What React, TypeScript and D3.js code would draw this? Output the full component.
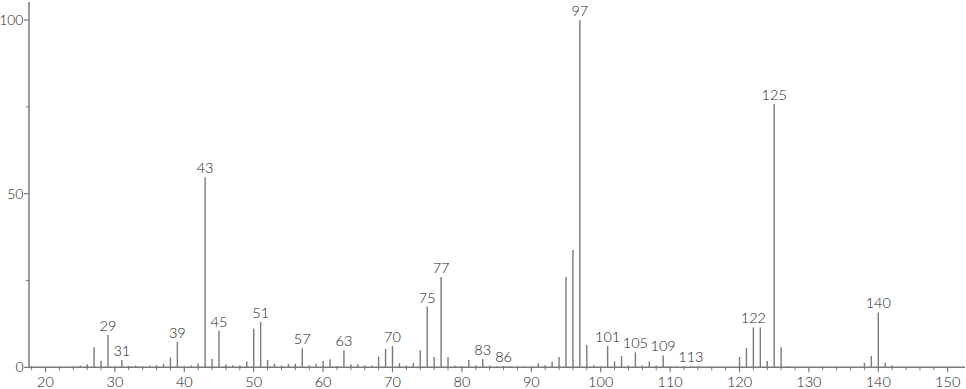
import React from "react";
import * as d3 from "d3";

const mz = [25,26,27,28,29,30,31,32,33,34,35,36,37,38,39,40,41,42,43,44,45,46,47,48,49,50,51,52,53,54,55,56,57,58,59,60,61,62,63,64,65,66,67,68,69,70,71,72,73,74,75,76,77,78,79,80,81,82,83,84,85,86,87,88,89,90,91,92,93,94,95,96,97,98,99,100,101,102,103,104,105,106,107,108,109,110,111,113,120,121,122,123,124,125,126,127,138,139,140,141,142];
const intensity = [0.5,0.9,5.8,1.9,9.3,0.3,2.1,0.4,0.5,0.3,0.5,0.6,1.0,2.8,7.3,0.3,0.5,1.1,54.7,2.4,10.5,0.8,0.6,0.5,1.7,11.1,13.0,2.1,1.0,0.5,1.0,1.0,5.5,0.5,1.0,1.8,2.3,0.4,4.9,0.9,0.9,0.5,0.5,3.1,5.3,6.1,1.2,0.5,1.2,4.9,17.5,3.0,26.0,3.0,0.5,0.4,2.1,0.5,2.4,0.5,0.3,0.4,0.3,0.2,0.3,0.3,1.2,0.6,1.6,3.0,26.0,33.8,100,6.4,0.6,0.3,6.1,1.7,3.2,0.5,4.3,0.5,1.7,0.5,3.4,0.4,0.3,0.3,3.0,5.5,11.5,11.5,1.8,75.8,5.8,0.4,1.3,3.2,15.8,1.3,0.5];
const labeled = [29,31,39,43,45,51,57,63,70,75,77,83,86,97,101,105,109,113,122,125,140];
const xMajor = [20,30,40,50,60,70,80,90,100,110,120,130,140,150];
const yMajor = [0,50,100];
const yMinor = [25,75];

export default function App() {
  const x = d3.scaleLinear().domain([20, 150]).range([45.5, 947.7]);
  const y = d3.scaleLinear().domain([0, 100]).range([367.3, 20]);
  const x0 = 29, x1 = 965, yTop = 2;
  const base = y(0);
  const xMinor = d3.range(18, 152, 2).filter((v) => v % 10 !== 0);
  const font = "Lato, 'Liberation Sans', Arial, sans-serif";
  const col = "#7a7a7a";
  return (
    <svg width={966} height={389} style={{ position: "absolute", left: 0, top: 0 }} fontFamily={font} fontWeight={300}>
      <rect width={966} height={389} fill="#fff" />
      {mz.map((m, i) => (
        <line key={m} x1={x(m)} x2={x(m)} y1={base} y2={y(intensity[i])} stroke={col} strokeWidth={1.4} />
      ))}
      {labeled.map((m) => {
        const v = intensity[mz.indexOf(m)];
        return (
          <text key={m} x={x(m)} y={y(v) - 4} textAnchor="middle" fontSize={14.5} fill="#222">{m}</text>
        );
      })}
      <line x1={x0} x2={x1} y1={base} y2={base} stroke={col} strokeWidth={1.5} />
      <line x1={x0} x2={x0} y1={base} y2={yTop} stroke={col} strokeWidth={1.5} />
      {xMajor.map((v) => (
        <g key={v}>
          <line x1={x(v)} x2={x(v)} y1={base} y2={base + 5} stroke={col} strokeWidth={1.2} />
          <text x={x(v)} y={387} textAnchor="middle" fontSize={14.5} fill="#222">{v}</text>
        </g>
      ))}
      {xMinor.map((v) => (
        <line key={v} x1={x(v)} x2={x(v)} y1={base - 1} y2={base + 3} stroke={col} strokeWidth={1} />
      ))}
      {yMajor.map((v) => (
        <g key={v}>
          <line x1={x0 - 5} x2={x0} y1={y(v)} y2={y(v)} stroke={col} strokeWidth={1.2} />
          <text x={x0 - 5.5} y={y(v) + 5} textAnchor="end" fontSize={14} fill="#222">{v}</text>
        </g>
      ))}
      {yMinor.map((v) => (
        <line key={v} x1={x0 - 3} x2={x0} y1={y(v)} y2={y(v)} stroke={col} strokeWidth={1} />
      ))}
    </svg>
  );
}
